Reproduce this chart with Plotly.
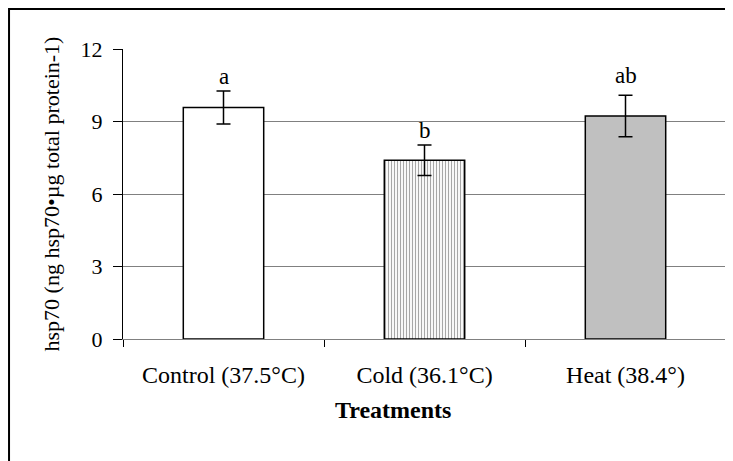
import plotly.graph_objects as go

categories = ["Control (37.5°C)", "Cold (36.1°C)", "Heat (38.4°)"]
means = [9.58, 7.40, 9.23]
errors = [0.68, 0.63, 0.86]
letters = ["a", "b", "ab"]
y_ticks = [0, 3, 6, 9, 12]

FONT = "Liberation Serif, Times New Roman, serif"

fig = go.Figure()
fig.add_trace(go.Bar(
    x=categories,
    y=means,
    width=0.4,
    marker=dict(
        color=["#ffffff", "#f8f8f8", "#c0c0c0"],
        line=dict(color="#000000", width=1.5),
        pattern=dict(shape=["", "|", ""], fgcolor="#f0f0f0", bgcolor="#fcfcfc",
                     size=3, solidity=0.3),
    ),
    error_y=dict(type="data", array=errors, visible=True,
                 color="#000000", thickness=1.5, width=7),
    showlegend=False,
))

shifts = [0, 0, 5]
for c, m, e, t, s in zip(categories, means, errors, letters, shifts):
    fig.add_annotation(x=c, y=m + e, text=t, showarrow=False,
                       yanchor="bottom", yshift=s,
                       font=dict(family=FONT, size=23, color="#000000"))

# x-axis title (placed like the original, slightly left of centre)
fig.add_annotation(xref="paper", yref="paper", x=0.448, y=-0.245,
                   text="<b>Treatments</b>", showarrow=False,
                   xanchor="center", yanchor="middle",
                   font=dict(family=FONT, size=24, color="#000000"))

# outer border of the chart (left and top edges visible, the rest runs off the picture)
fig.add_shape(type="rect", xref="paper", yref="paper",
              x0=-0.189, x1=1.3, y0=-0.8, y1=1.138,
              line=dict(color="#000000", width=2), fillcolor="rgba(0,0,0,0)",
              layer="above")

fig.update_layout(
    width=733, height=461,
    margin=dict(l=115, r=15, t=41, b=130),
    paper_bgcolor="#ffffff",
    plot_bgcolor="#ffffff",
    font=dict(family=FONT, size=22, color="#000000"),
    bargap=0.6,
    modebar=dict(bgcolor="rgba(0,0,0,0)", color="rgba(0,0,0,0)",
                 activecolor="rgba(0,0,0,0)"),
    xaxis=dict(
        showline=True, linecolor="#808080", linewidth=1,
        ticks="outside", tickson="boundaries", ticklen=7, tickcolor="#000000",
        showgrid=False, zeroline=False,
        tickfont=dict(family=FONT, size=24),
        ticklabelstandoff=14,
    ),
    yaxis=dict(
        title=dict(text="hsp70 (ng hsp70•µg total protein-1)", font=dict(family=FONT, size=22), standoff=14),
        range=[0, 12], tickvals=y_ticks,
        showline=True, linecolor="#000000", linewidth=1,
        ticks="outside", ticklen=9, tickcolor="#000000",
        showgrid=True, gridcolor="#808080", gridwidth=1,
        zeroline=False,
        tickfont=dict(family=FONT, size=22),
        ticklabelstandoff=6,
    ),
)

fig.write_html("out.html")
